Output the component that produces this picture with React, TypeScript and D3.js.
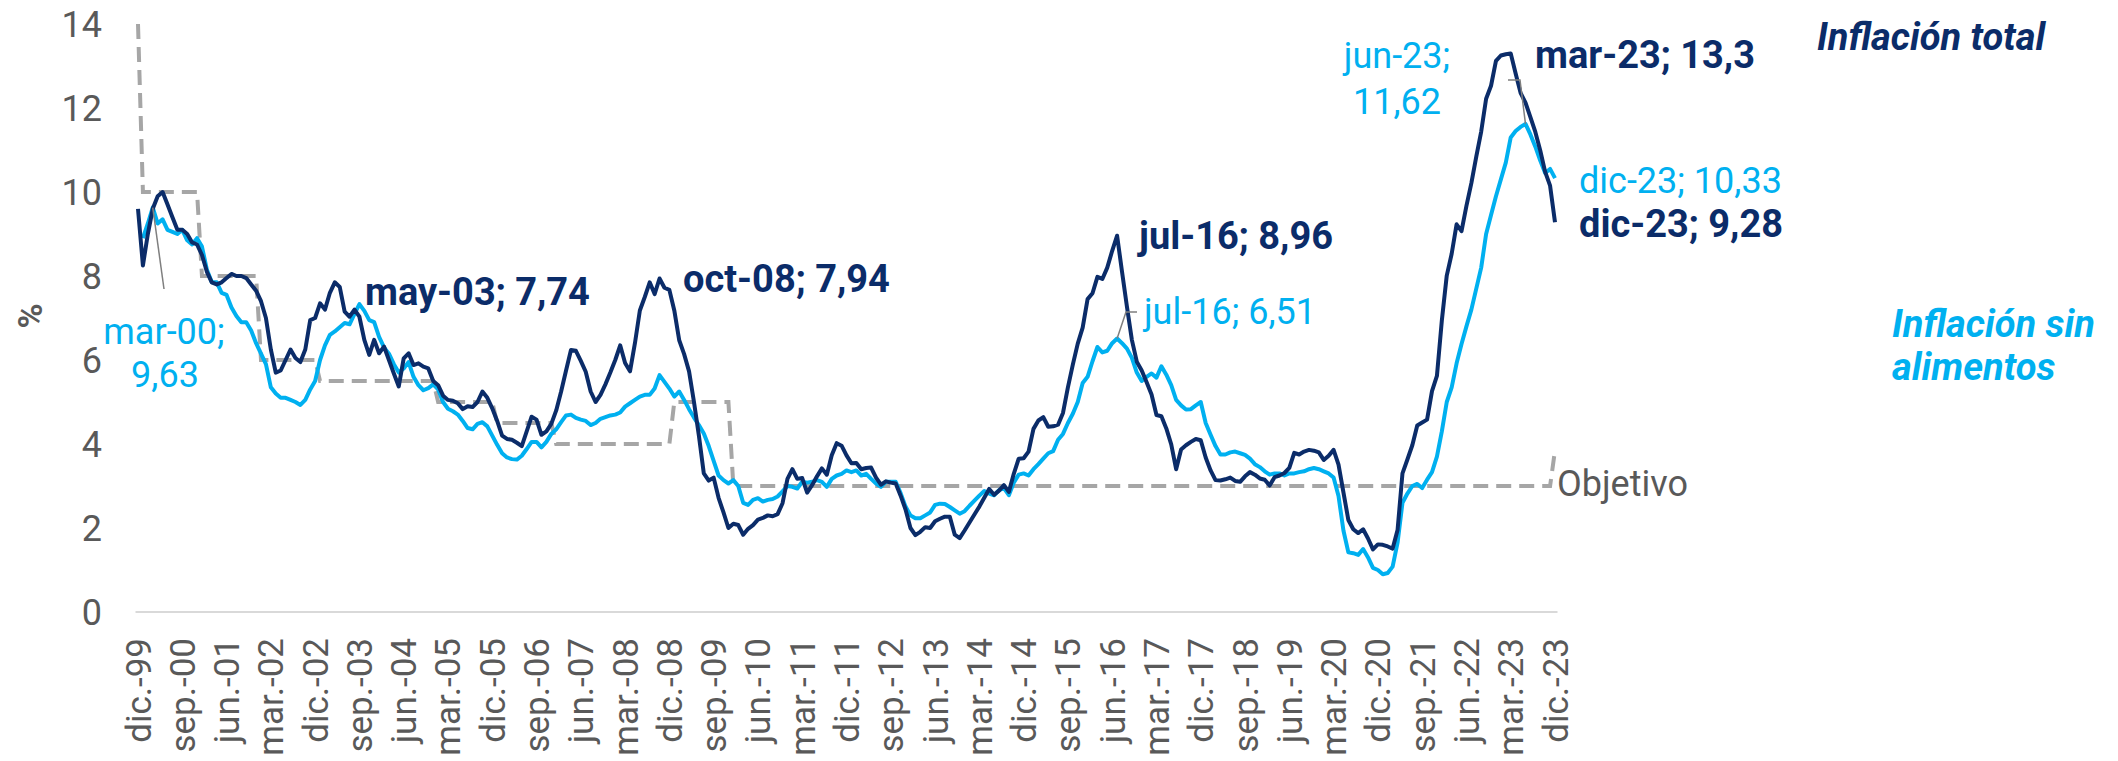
import * as d3 from "d3";

// Serie mensual desde dic-99 hasta dic-23 (289 meses)
const inflacionTotal: number[] = [
  9.6,
  8.25, 9.0, 9.6, 9.9, 10.0, 9.7, 9.4, 9.1, 9.1, 9.0, 8.8, 8.75,
  8.5, 8.1, 7.85, 7.8, 7.85, 7.95, 8.05, 8.0, 8.0, 7.95, 7.8, 7.65,
  7.4, 7.0, 6.25, 5.7, 5.75, 6.0, 6.25, 6.05, 5.95, 6.25, 6.95, 7.0,
  7.35, 7.2, 7.6, 7.85, 7.74, 7.15, 7.03, 7.2, 7.03, 6.48, 6.12, 6.48,
  6.16, 6.32, 6.0, 5.68, 5.37, 6.04, 6.16, 5.88, 5.92, 5.84, 5.8, 5.5,
  5.4, 5.15, 5.05, 5.03, 4.97, 4.83, 4.9, 4.88, 5.0, 5.25, 5.1, 4.85,
  4.55, 4.2, 4.12, 4.1, 4.03, 3.95, 4.3, 4.65, 4.58, 4.22, 4.3, 4.48,
  4.8, 5.25, 5.75, 6.24, 6.22, 5.98, 5.72, 5.25, 5.0, 5.17, 5.42, 5.7,
  6.0, 6.35, 5.93, 5.73, 6.4, 7.18, 7.5, 7.85, 7.57, 7.94, 7.72, 7.67,
  7.18, 6.47, 6.14, 5.73, 5.0, 4.2, 3.3, 3.13, 3.2, 2.72, 2.37, 2.0,
  2.1, 2.07, 1.84, 1.98, 2.07, 2.2, 2.24, 2.3, 2.28, 2.33, 2.59, 3.17,
  3.4, 3.17, 3.19, 2.84, 3.02, 3.23, 3.42, 3.27, 3.73, 4.02, 3.96, 3.73,
  3.54, 3.55, 3.4, 3.43, 3.44, 3.2, 3.03, 3.11, 3.08, 3.06, 2.77, 2.44,
  2.0, 1.83, 1.91, 2.02, 2.0, 2.16, 2.22, 2.27, 2.27, 1.84, 1.76, 1.94,
  2.13, 2.32, 2.51, 2.72, 2.93, 2.79, 2.89, 3.02, 2.86, 3.29, 3.65, 3.66,
  3.82, 4.36, 4.56, 4.64, 4.41, 4.42, 4.46, 4.74, 5.35, 5.89, 6.39, 6.77,
  7.45, 7.59, 7.98, 7.93, 8.2, 8.6, 8.96, 8.1, 7.27, 6.48, 5.96, 5.75,
  5.47, 5.18, 4.69, 4.66, 4.37, 3.99, 3.4, 3.87, 3.97, 4.05, 4.12, 4.09,
  3.68, 3.37, 3.14, 3.13, 3.16, 3.2, 3.12, 3.1, 3.23, 3.33, 3.27, 3.18,
  3.15, 3.01, 3.21, 3.25, 3.31, 3.43, 3.79, 3.75, 3.82, 3.86, 3.84, 3.8,
  3.62, 3.72, 3.86, 3.51, 2.85, 2.19, 1.97, 1.88, 1.97, 1.75, 1.49, 1.61,
  1.6, 1.56, 1.51, 1.95, 3.3, 3.63, 3.97, 4.44, 4.51, 4.58, 5.26, 5.62,
  6.94, 8.01, 8.53, 9.23, 9.07, 9.67, 10.21, 10.84, 11.44, 12.22, 12.53, 13.12,
  13.25, 13.28, 13.3, 12.82, 12.36, 12.13, 11.78, 11.43, 10.99, 10.48, 10.15, 9.28,
];

const inflacionSinAlimentos: (number | null)[] = [
  null,
  8.9, 9.25, 9.63, 9.25, 9.35, 9.1, 9.05, 9.0, 9.1, 8.85, 8.75, 8.9,
  8.7, 8.15, 7.85, 7.85, 7.6, 7.55, 7.25, 7.05, 6.9, 6.9, 6.7, 6.4,
  6.15, 5.9, 5.35, 5.2, 5.1, 5.1, 5.05, 5.0, 4.93, 5.05, 5.3, 5.5,
  6.0, 6.35, 6.6, 6.68, 6.78, 6.88, 6.85, 7.1, 7.33, 7.17, 6.95, 6.9,
  6.55, 6.3, 6.15, 5.9, 5.7, 5.8, 5.95, 5.6, 5.4, 5.28, 5.33, 5.42,
  5.3, 5.0, 4.84, 4.78, 4.7, 4.55, 4.38, 4.35, 4.48, 4.52, 4.42, 4.2,
  3.98, 3.78, 3.68, 3.64, 3.63, 3.72, 3.88, 4.05, 4.05, 3.92, 4.05, 4.24,
  4.35, 4.52, 4.68, 4.7, 4.62, 4.58, 4.55, 4.45, 4.5, 4.6, 4.64, 4.68,
  4.7, 4.75, 4.89, 4.97, 5.05, 5.13, 5.17, 5.17, 5.32, 5.64, 5.48, 5.32,
  5.13, 5.25, 5.05, 4.83, 4.63, 4.45, 4.25, 3.95, 3.6, 3.25, 3.14, 3.06,
  3.14, 3.0, 2.6, 2.55, 2.67, 2.71, 2.63, 2.67, 2.69, 2.75, 2.87, 3.0,
  2.98, 2.94, 3.1, 3.08, 3.1, 3.14, 3.1, 2.98, 3.17, 3.25, 3.29, 3.37,
  3.33, 3.37, 3.25, 3.29, 3.17, 3.06, 2.98, 3.1, 3.1, 3.1, 2.83, 2.51,
  2.3, 2.23, 2.23, 2.3, 2.37, 2.55, 2.58, 2.57, 2.5, 2.42, 2.34, 2.4,
  2.53, 2.65, 2.77, 2.88, 2.82, 2.78, 2.9, 2.95, 2.78, 3.08, 3.27, 3.3,
  3.25, 3.4, 3.52, 3.65, 3.78, 3.83, 4.1, 4.24, 4.5, 4.72, 5.0, 5.45,
  5.6, 5.97, 6.31, 6.18, 6.22, 6.4, 6.51, 6.4, 6.27, 6.05, 5.7, 5.5,
  5.6, 5.68, 5.58, 5.85, 5.65, 5.4, 5.05, 4.92, 4.82, 4.83, 4.92, 5.0,
  4.5, 4.22, 3.95, 3.75, 3.75, 3.8, 3.82, 3.78, 3.74, 3.65, 3.52, 3.45,
  3.35, 3.27, 3.3, 3.3, 3.25, 3.3, 3.3, 3.33, 3.35, 3.4, 3.43, 3.4,
  3.35, 3.3, 3.2, 2.76, 1.94, 1.42, 1.4, 1.36, 1.5, 1.3, 1.05, 1.0,
  0.9, 0.93, 1.08, 1.65, 2.6, 2.82, 3.0, 3.05, 2.95, 3.15, 3.33, 3.7,
  4.3, 5.0, 5.35, 5.92, 6.38, 6.8, 7.2, 7.7, 8.2, 9.0, 9.45, 9.9,
  10.3, 10.7, 11.3, 11.45, 11.55, 11.62, 11.37, 11.08, 10.75, 10.45, 10.55, 10.33,
];

// Meta anual (1999..2023) y último punto de la serie
const objetivoAnios = d3.range(1999, 2024);
const objetivoValores = [14, 10, 8, 6, 5.5, 5.5, 5, 4.5, 4, 4, 5, 3, 3, 3, 3, 3, 3, 3, 3, 3, 3, 3, 3, 3, 3];
const objetivoUltimo = 3.85;

const meses = ["ene", "feb", "mar", "abr", "may", "jun", "jul", "ago", "sep", "oct", "nov", "dic"];
const yTicks = [0, 2, 4, 6, 8, 10, 12, 14];

const W = 2118;
const H = 761;
const DARK = "#0b2c69";
const LIGHT = "#00b0f0";
const GRAY = "#595959";
const FONT = "Roboto, 'Open Sans', sans-serif";

const mesDe = (i: number) => (11 + i) % 12;
const anioDe = (i: number) => 1999 + Math.floor((11 + i) / 12);

export default function App() {
  const n = inflacionTotal.length;
  const x = d3.scaleLinear().domain([0, n - 1]).range([138, 1555]);
  const y = d3.scaleLinear().domain([0, 14]).range([612, 24]);

  const objetivo = d3.range(n).map((i) =>
    i === n - 1 ? objetivoUltimo : objetivoValores[objetivoAnios.indexOf(anioDe(i))]
  );

  const line = d3
    .line<number | null>()
    .defined((d) => d != null)
    .x((_, i) => x(i))
    .y((d) => y(d as number));

  const xTicks = d3.range(0, n, 9);
  const label = (i: number) => `${meses[mesDe(i)]}.-${String(anioDe(i) % 100).padStart(2, "0")}`;

  const leader = (pts: [number, number][]) => d3.line()(pts) ?? "";
  const iMar00 = 3;
  const iJul16 = 199;
  const iJun23 = 282;

  return (
    <svg width={W} height={H} style={{ position: "absolute", left: 0, top: 0 }} fontFamily={FONT}>
      <rect width={W} height={H} fill="#fff" />
      {/* eje horizontal */}
      <line x1={135.5} x2={1557.5} y1={y(0)} y2={y(0)} stroke="#d9d9d9" strokeWidth={2} />

      {yTicks.map((t) => (
        <text key={t} x={102} y={y(t)} dy="0.35em" textAnchor="end" fontSize={36} fill={GRAY}>
          {t}
        </text>
      ))}
      <text transform="translate(42,316) rotate(-90)" textAnchor="middle" fontSize={34} fontWeight="bold" fill={GRAY}>
        %
      </text>

      {xTicks.map((i) => (
        <text
          key={i}
          transform={`translate(${x(i) + 12.5},638) rotate(-90)`}
          textAnchor="end"
          fontSize={35}
          fill={GRAY}
        >
          {label(i)}
        </text>
      ))}

      <path d={line(objetivo) ?? ""} fill="none" stroke="#a6a6a6" strokeWidth={4} strokeDasharray="15 8" />
      <path d={line(inflacionSinAlimentos) ?? ""} fill="none" stroke={LIGHT} strokeWidth={4} strokeLinejoin="round" />
      <path d={line(inflacionTotal) ?? ""} fill="none" stroke={DARK} strokeWidth={4} strokeLinejoin="round" />

      {/* líneas guía de etiquetas */}
      <path
        d={leader([[x(iMar00), y(inflacionSinAlimentos[iMar00] as number)], [164, 289]])}
        stroke="#7f7f7f" strokeWidth={1.5} fill="none"
      />
      <path
        d={leader([[1137, 312], [1126, 312], [x(iJul16), y(inflacionSinAlimentos[iJul16] as number)]])}
        stroke="#7f7f7f" strokeWidth={1.5} fill="none"
      />
      <path
        d={leader([[1508, 80], [1520, 80], [x(iJun23), y(inflacionSinAlimentos[iJun23] as number)]])}
        stroke="#7f7f7f" strokeWidth={1.5} fill="none"
      />

      {/* etiquetas de datos */}
      <g fontSize={36} fill={LIGHT}>
        <text x={164} y={344} textAnchor="middle">mar-00;</text>
        <text x={165} y={387} textAnchor="middle">9,63</text>
        <text x={1144} y={324}>jul-16; 6,51</text>
        <text x={1397} y={68} textAnchor="middle">jun-23;</text>
        <text x={1397} y={114} textAnchor="middle">11,62</text>
        <text x={1579} y={193}>dic-23; 10,33</text>
      </g>
      <g fontSize={38} fontWeight="bold" fill={DARK}>
        <text x={365} y={305}>may-03; 7,74</text>
        <text x={683} y={292}>oct-08; 7,94</text>
        <text x={1139} y={249}>jul-16; 8,96</text>
        <text x={1535} y={68}>mar-23; 13,3</text>
        <text x={1579} y={237}>dic-23; 9,28</text>
      </g>
      <text x={1557} y={496} fontSize={36} fill={GRAY}>Objetivo</text>

      {/* leyenda */}
      <g fontSize={38} fontWeight="bold" fontStyle="italic">
        <text x={1817} y={50} fill={DARK}>Inflación total</text>
        <text x={1892} y={337} fill={LIGHT}>Inflación sin</text>
        <text x={1892} y={380} fill={LIGHT}>alimentos</text>
      </g>
    </svg>
  );
}
